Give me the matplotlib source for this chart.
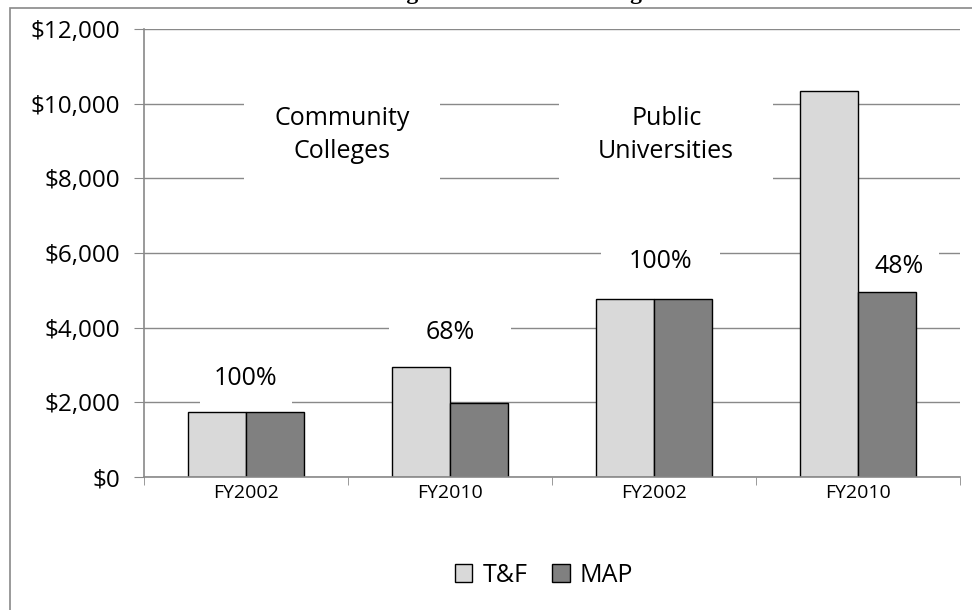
import numpy as np
import matplotlib
matplotlib.use("Agg")
import matplotlib.pyplot as plt
from matplotlib.patches import Rectangle
from matplotlib.ticker import FuncFormatter

# data
categories = ["FY2002", "FY2010", "FY2002", "FY2010"]
tf_values = [1740, 2950, 4770, 10350]
map_values = [1740, 1980, 4770, 4950]
pct_labels = ["100%", "68%", "100%", "48%"]
group_names = ["Community\nColleges", "Public\nUniversities"]

# label placement (data coords) and white box padding (points)
pct_x = [0.0, 0.0, 0.03, 0.2]
pct_y = [2650, 3880, 5760, 5640]
pct_pad = [10, 26, 20, 11]
group_x = [0.47, 2.06]
group_y = [9170, 9170]
group_pad = [22, 28]

plt.rcParams['font.family'] = ['Open Sans', 'DejaVu Sans']
grid_color = "#898989"

fig = plt.figure(figsize=(9.72, 6.1), dpi=100)
ax = fig.add_axes([144 / 972, 1 - 477 / 610, (960 - 144) / 972, (477 - 29) / 610])

x = np.arange(len(categories))
w = 0.285
ax.bar(x - w / 2, tf_values, w, color="#d9d9d9", edgecolor="black", linewidth=1, label="T&F", zorder=3)
ax.bar(x + w / 2, map_values, w, color="#808080", edgecolor="black", linewidth=1, label="MAP", zorder=3)

ax.set_xlim(-0.5, 3.5)
ax.set_ylim(0, 12000)
ax.set_yticks(np.arange(0, 12001, 2000))
ax.yaxis.set_major_formatter(FuncFormatter(lambda v, p: "${:,.0f}".format(v)))
ax.set_xticks(x)
ax.set_xticklabels(categories)
ax.set_xticks(np.arange(-0.5, 3.6, 1), minor=True)
ax.tick_params(axis='x', which='major', length=0, pad=5, labelsize=14)
ax.tick_params(axis='x', which='minor', length=6, color=grid_color, direction='out')
ax.tick_params(axis='y', length=7, color=grid_color, pad=10, labelsize=17.5)

ax.grid(axis='y', color=grid_color, linewidth=1, zorder=0)
for s in ['top', 'right']:
    ax.spines[s].set_visible(False)
for s in ['left', 'bottom']:
    ax.spines[s].set_color(grid_color)
    ax.spines[s].set_linewidth(1.2)
    ax.spines[s].set_zorder(4)

# white boxes sit over the gridlines but under the bars
for i in range(len(pct_labels)):
    ax.text(x[i] + pct_x[i], pct_y[i], pct_labels[i], ha='center', va='center', fontsize=18,
            bbox=dict(facecolor='white', edgecolor='none', pad=pct_pad[i]), zorder=2)
for i, name in enumerate(group_names):
    ax.text(group_x[i], group_y[i], name, ha='center', va='center', fontsize=18,
            linespacing=1.42, bbox=dict(facecolor='white', edgecolor='none', pad=group_pad[i]),
            zorder=2)

# chart area border (cut off on right and bottom)
fig.patches.append(Rectangle((10 / 972, -0.1), 1.2, 1.1 - 8 / 610, transform=fig.transFigure,
                             fill=False, edgecolor="#898989", linewidth=1.2))

# title, mostly cut off at the top edge
fig.text(485 / 972, 1 + 1.5 / 610, "Chart 1: Changes in MAP Purchasing Power", ha='center',
         va='baseline', fontsize=17, fontweight='bold', family='Liberation Serif')

fig.legend(loc='center', bbox_to_anchor=(544 / 972, 1 - 575 / 610), ncol=2, frameon=False,
           fontsize=18, handlelength=0.7, handleheight=0.7, handletextpad=0.4, columnspacing=1.0)

fig.savefig("out.png", dpi=100)
